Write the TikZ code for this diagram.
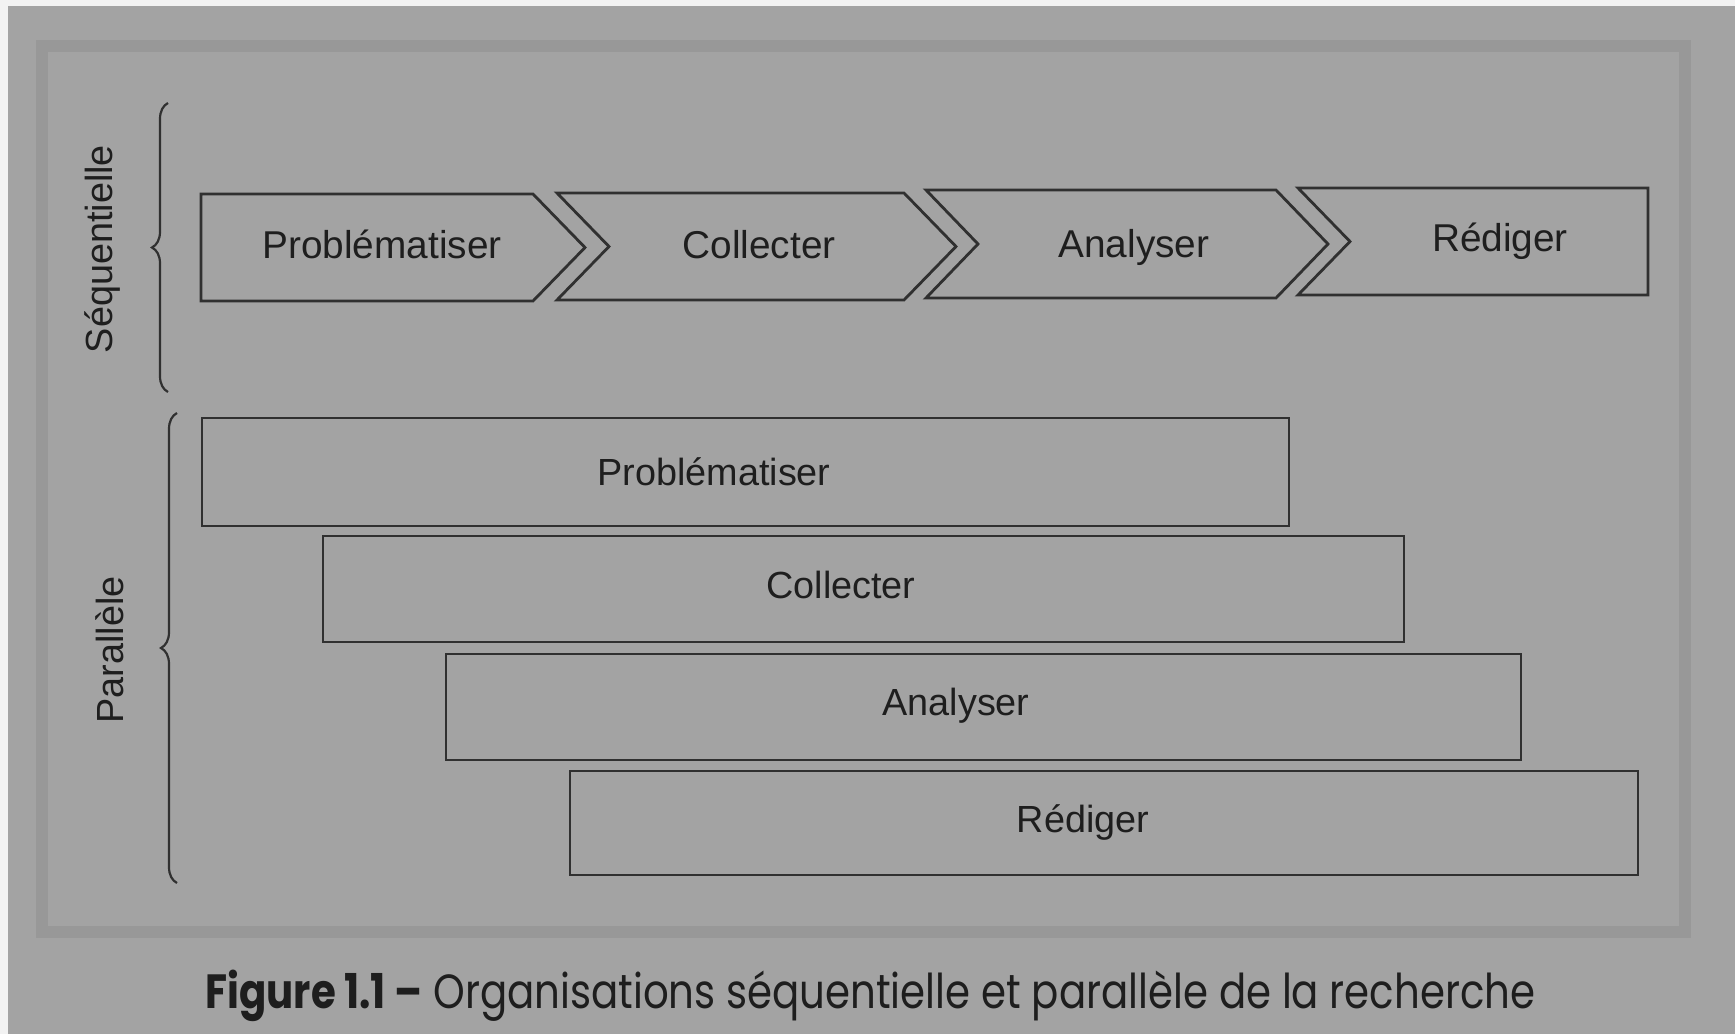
\documentclass[tikz,border=0pt]{standalone}
\usepackage{fontspec}
\setmainfont{Liberation Sans}
\newfontfamily\capfont{Poppins}
\usetikzlibrary{decorations.pathreplacing}
\definecolor{bgc}{HTML}{A3A3A3}
\definecolor{framec}{HTML}{989898}
\definecolor{edgec}{HTML}{F2F2F2}
\definecolor{linec}{HTML}{303030}
\definecolor{textc}{HTML}{1E1E1E}
\begin{document}
\begin{tikzpicture}[x=0.5pt,y=-0.5pt,
  shp/.style={draw=linec,line width=1.4pt,line join=miter},
  lbl/.style={text=textc,inner sep=0pt,anchor=base,font=\fontsize{18.9}{20}\selectfont},
  slbl/.style={lbl,font=\fontsize{19.4}{20}\selectfont},
  side/.style={lbl,rotate=90},
  bracec/.style={draw=linec,line width=1.1pt,decorate,decoration={brace,amplitude=8pt}}]
\useasboundingbox (0,0) rectangle (1735,1034);
\fill[bgc] (0,0) rectangle (1735,1034);
\fill[edgec] (0,0) rectangle (1735,6);
\fill[edgec] (0,0) rectangle (8,1034);
\draw[framec,line width=6pt] (42,46) rectangle (1685,932);
% sequential chevrons
\draw[shp] (201,194) -- (533,194) -- (585,247.5) -- (533,301) -- (201,301) -- cycle;
\draw[shp] (557,193) -- (904,193) -- (956,246.5) -- (904,300) -- (557,300) -- (609,246.5) -- cycle;
\draw[shp] (926,190) -- (1276,190) -- (1328,244) -- (1276,298) -- (926,298) -- (978,244) -- cycle;
\draw[shp] (1298,188) -- (1648,188) -- (1648,295) -- (1298,295) -- (1350,241.5) -- cycle;
\node[slbl] (s1) at (382,258) {Problématiser};
\node[slbl] (s2) at (759,258) {Collecter};
\node[slbl] (s3) at (1134,257) {Analyser};
\node[slbl] (s4) at (1500,251) {Rédiger};
% parallel bars
\draw[shp] (202,418) rectangle (1289,526);
\draw[shp] (323,536) rectangle (1404,642);
\draw[shp] (446,654) rectangle (1521,760);
\draw[shp] (570,771) rectangle (1638,875);
\node[lbl] (p1) at (714,485) {Problématiser};
\node[lbl] (p2) at (841,598) {Collecter};
\node[lbl] (p3) at (956,715) {Analyser};
\node[lbl] (p4) at (1083,832) {Rédiger};
% braces and side labels
\draw[bracec] (168,392) -- (168,103);
\draw[bracec] (177,883) -- (177,413);
\node[side] (seq) at (112,249) {Séquentielle};
\node[side] (par) at (123,650) {Parallèle};
% caption
\node[inner sep=0pt,anchor=base west,text=textc] (cap) at (205,1008)
  {\resizebox{665pt}{\height}{\capfont\fontsize{24}{26}\selectfont\textbf{Figure 1.1 –} Organisations séquentielle et parallèle de la recherche}};
\end{tikzpicture}
\end{document}
